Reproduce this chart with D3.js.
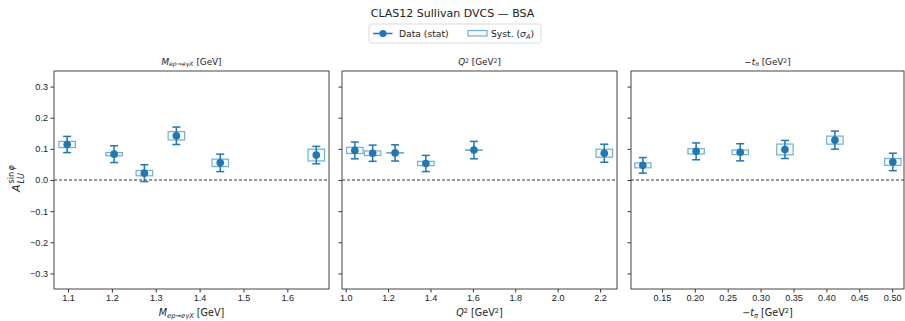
<!DOCTYPE html>
<html>
<head>
<meta charset="utf-8">
<script src="https://cdn.jsdelivr.net/npm/d3@7"></script>
<style>
    body { margin: 0; background: #fff; }
    svg { font-family: "DejaVu Sans", sans-serif; }
    .axis path, .axis line { stroke: #333; }
    .axis text { fill: #222; font-size: 9.1px; }
</style>
</head>
<body>
<svg class="chart"></svg>
<script>
// asymmetry vs. missing mass
var massBins = [1.098, 1.205, 1.274, 1.347, 1.447, 1.666];
var massAsym = [0.114, 0.083, 0.022, 0.142, 0.055, 0.080];
var massStat = [0.026, 0.027, 0.027, 0.028, 0.028, 0.028];
var massSyst = [0.010, 0.005, 0.0085, 0.0135, 0.012, 0.019];

// asymmetry vs. Q^2
var q2Bins = [1.043, 1.127, 1.233, 1.378, 1.605, 2.220];
var q2Asym = [0.095, 0.086, 0.087, 0.053, 0.096, 0.086];
var q2Stat = [0.027, 0.026, 0.026, 0.026, 0.028, 0.029];
var q2Syst = [0.010, 0.0075, 0.001, 0.007, 0.001, 0.013];

// asymmetry vs. -t
var tBins = [0.121, 0.202, 0.269, 0.337, 0.413, 0.501];
var tAsym = [0.047, 0.092, 0.089, 0.098, 0.128, 0.058];
var tStat = [0.025, 0.027, 0.0275, 0.029, 0.029, 0.028];
var tSyst = [0.008, 0.0085, 0.0075, 0.0175, 0.013, 0.011];

var massTicks = [1.1, 1.2, 1.3, 1.4, 1.5, 1.6];
var q2Ticks = [1.0, 1.2, 1.4, 1.6, 1.8, 2.0, 2.2];
var tTicks = [0.15, 0.20, 0.25, 0.30, 0.35, 0.40, 0.45, 0.50];
var asymTicks = [-0.3, -0.2, -0.1, 0.0, 0.1, 0.2, 0.3];

var blue = "#1f77b4";

var svg = d3.select(".chart")
    .attr("width", 905)
    .attr("height", 321);

var plotTop = 71, plotBottom = 289;
var y = d3.scaleLinear().domain([-0.35, 0.35]).range([plotBottom, plotTop]);

function zip(xs, vals, stat, syst) {
    return xs.map(function(x, i) {
        return {x: x, a: vals[i], stat: stat[i], syst: syst[i]};
    });
}

// label pieces: [text, italic, shift] where shift is "sub", "sup" or ""
function richText(sel, parts, size) {
    parts.forEach(function(p) {
        var t = sel.append("tspan").text(p[0]);
        if (p[1]) t.style("font-style", "italic");
        if (p[2] === "sub") t.attr("baseline-shift", "-22%").style("font-size", (size * 0.7) + "px");
        if (p[2] === "sup") t.attr("baseline-shift", "38%").style("font-size", (size * 0.7) + "px");
        if (p[2] === "") t.attr("baseline-shift", "0%").style("font-size", size + "px");
    });
    return sel;
}

function renderPanel(opts) {
    var x = d3.scaleLinear().domain(opts.domain).range([opts.left, opts.right]);
    var data = zip(opts.xs, opts.vals, opts.stat, opts.syst);
    var span = opts.domain[1] - opts.domain[0];
    var boxW = x(opts.domain[0] + 0.06 * span) - x(opts.domain[0]);

    var g = svg.append("g");

    // zero line
    g.append("line")
        .attr("x1", opts.left).attr("x2", opts.right)
        .attr("y1", y(0)).attr("y2", y(0))
        .attr("stroke", "#000")
        .attr("stroke-width", 0.8)
        .attr("stroke-dasharray", "3,2");

    // systematic boxes
    g.selectAll("rect.syst")
        .data(data)
        .enter()
        .append("rect")
        .attr("class", "syst")
        .attr("x", function(d) { return x(d.x) - boxW / 2; })
        .attr("y", function(d) { return y(d.a + d.syst); })
        .attr("width", boxW)
        .attr("height", function(d) { return Math.max(0.6, y(d.a - d.syst) - y(d.a + d.syst)); })
        .attr("fill", blue)
        .attr("fill-opacity", 0.04)
        .attr("stroke", blue)
        .attr("stroke-opacity", 0.6)
        .attr("stroke-width", 1.2);

    // stat error bars
    var bars = g.selectAll("g.err")
        .data(data)
        .enter()
        .append("g")
        .attr("class", "err")
        .attr("stroke", blue)
        .attr("stroke-width", 1.5);
    bars.append("line")
        .attr("x1", function(d) { return x(d.x); })
        .attr("x2", function(d) { return x(d.x); })
        .attr("y1", function(d) { return y(d.a + d.stat); })
        .attr("y2", function(d) { return y(d.a - d.stat); });
    [1, -1].forEach(function(s) {
        bars.append("line")
            .attr("x1", function(d) { return x(d.x) - 4; })
            .attr("x2", function(d) { return x(d.x) + 4; })
            .attr("y1", function(d) { return y(d.a + s * d.stat); })
            .attr("y2", function(d) { return y(d.a + s * d.stat); });
    });

    g.selectAll("circle")
        .data(data)
        .enter()
        .append("circle")
        .attr("cx", function(d) { return x(d.x); })
        .attr("cy", function(d) { return y(d.a); })
        .attr("r", 3.8)
        .attr("fill", blue);

    var xAxis = d3.axisBottom(x)
        .tickValues(opts.ticks)
        .tickFormat(d3.format(opts.fmt))
        .tickSize(3.5)
        .tickPadding(2.5);
    g.append("g")
        .attr("class", "x axis")
        .attr("transform", "translate(0," + plotBottom + ")")
        .call(xAxis)
        .call(function(a) { a.select(".domain").remove(); });

    var yAxis = d3.axisLeft(y)
        .tickValues(asymTicks)
        .tickFormat(opts.yLabels ? d3.format(".1f") : "")
        .tickSize(3.5)
        .tickPadding(2.5);
    g.append("g")
        .attr("class", "y axis")
        .attr("transform", "translate(" + opts.left + ",0)")
        .call(yAxis)
        .call(function(a) { a.select(".domain").remove(); });

    // frame
    g.append("rect")
        .attr("x", opts.left)
        .attr("y", plotTop)
        .attr("width", opts.right - opts.left)
        .attr("height", plotBottom - plotTop)
        .attr("fill", "none")
        .attr("stroke", "#444")
        .attr("stroke-width", 1);

    var cx = (opts.left + opts.right) / 2;
    richText(g.append("text")
        .attr("x", cx)
        .attr("y", 65)
        .attr("text-anchor", "middle")
        .style("font-size", "8.8px")
        .attr("fill", "#222"), opts.label, 8.8);

    richText(g.append("text")
        .attr("x", cx)
        .attr("y", 316)
        .attr("text-anchor", "middle")
        .style("font-size", "9.6px")
        .attr("fill", "#222"), opts.label, 9.6);
}

var massLabel = [["M", true, ""], ["ep\u2192e\u03b3X", true, "sub"], [" [GeV]", false, ""]];
var q2Label = [["Q", true, ""], ["2", false, "sup"], [" [GeV", false, ""], ["2", false, "sup"], ["]", false, ""]];
var tLabel = [["\u2212", false, ""], ["t", true, ""], ["\u03c0", true, "sub"], [" [GeV", false, ""], ["2", false, "sup"], ["]", false, ""]];

renderPanel({left: 54, right: 329, domain: [1.068, 1.695], xs: massBins, vals: massAsym,
    stat: massStat, syst: massSyst, ticks: massTicks, fmt: ".1f", label: massLabel, yLabels: true});
renderPanel({left: 342, right: 617, domain: [0.9825, 2.28], xs: q2Bins, vals: q2Asym,
    stat: q2Stat, syst: q2Syst, ticks: q2Ticks, fmt: ".1f", label: q2Label, yLabels: false});
renderPanel({left: 631, right: 904, domain: [0.103, 0.518], xs: tBins, vals: tAsym,
    stat: tStat, syst: tSyst, ticks: tTicks, fmt: ".2f", label: tLabel, yLabels: false});

// y axis label, sub and superscript stacked after the A
var yl = svg.append("g")
    .attr("transform", "translate(20,180) rotate(-90)")
    .attr("fill", "#222");
yl.append("text")
    .attr("x", -12).attr("y", 0)
    .style("font-size", "11px")
    .style("font-style", "italic")
    .text("A");
yl.append("text")
    .attr("x", -3.5).attr("y", 3.5)
    .style("font-size", "8px")
    .style("font-style", "italic")
    .text("LU");
var sup = yl.append("text")
    .attr("x", -3.5).attr("y", -6.5)
    .style("font-size", "8px");
sup.append("tspan").text("sin\u2009");
sup.append("tspan").style("font-style", "italic").text("\u03c6");

svg.append("text")
    .attr("x", 452.5)
    .attr("y", 17)
    .attr("text-anchor", "middle")
    .style("font-size", "11px")
    .attr("fill", "#222")
    .text("CLAS12 Sullivan DVCS \u2014 BSA");

// legend
var leg = svg.append("g").attr("transform", "translate(369,24)");
leg.append("rect")
    .attr("width", 172).attr("height", 19)
    .attr("rx", 2.5)
    .attr("fill", "#fff")
    .attr("stroke", "#d0d0d0")
    .attr("stroke-width", 0.8);
leg.append("line")
    .attr("x1", 4).attr("x2", 23.5)
    .attr("y1", 9.5).attr("y2", 9.5)
    .attr("stroke", blue).attr("stroke-width", 1.5);
leg.append("circle")
    .attr("cx", 14).attr("cy", 9.5).attr("r", 3.6)
    .attr("fill", blue);
leg.append("text")
    .attr("x", 30).attr("y", 13)
    .style("font-size", "9.2px")
    .attr("fill", "#222")
    .text("Data (stat)");
leg.append("rect")
    .attr("x", 99).attr("y", 6.5)
    .attr("width", 19).attr("height", 5.5)
    .attr("fill", blue).attr("fill-opacity", 0.04)
    .attr("stroke", blue).attr("stroke-opacity", 0.6)
    .attr("stroke-width", 1.2);
var sl = leg.append("text")
    .attr("x", 122).attr("y", 13)
    .style("font-size", "9.2px")
    .attr("fill", "#222");
sl.append("tspan").text("Syst. (");
sl.append("tspan").style("font-style", "italic").text("\u03c3");
sl.append("tspan").style("font-style", "italic").style("font-size", "6.5px").attr("baseline-shift", "-22%").text("A");
sl.append("tspan").attr("baseline-shift", "0%").text(")");
</script>
</body>
</html>
